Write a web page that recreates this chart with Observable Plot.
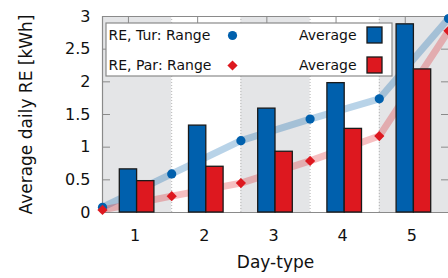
<!DOCTYPE html>
<html>
<head>
<meta charset="utf-8">
<script src="https://cdn.jsdelivr.net/npm/d3@7"></script>
<script src="https://cdn.jsdelivr.net/npm/@observablehq/plot@0.6"></script>
<style>
  html, body { margin: 0; padding: 0; background: #fff; }
  #chart svg { display: block; }
</style>
</head>
<body>
<div id="chart"></div>
<script>
// ---- data ----
const days = [1, 2, 3, 4, 5];
const turAvg = [0.66, 1.33, 1.59, 1.98, 2.88];
const parAvg = [0.48, 0.70, 0.93, 1.28, 2.19];
const rangeX = [0.5, 1.5, 2.5, 3.5, 4.5, 5.5];
const turRange = [0.08, 0.59, 1.10, 1.43, 1.74, 2.97];
const parRange = [0.04, 0.25, 0.45, 0.79, 1.17, 2.78];
const yTicks = [0, 0.5, 1, 1.5, 2, 2.5, 3];
const bandStarts = [0.5, 2.5, 4.5];
const bandEdges = [1.5, 2.5, 3.5, 4.5];
const legendTur = ["RE, Tur: Range", "Average"];
const legendPar = ["RE, Par: Range", "Average"];
const xLabel = "Day-type";
const yLabel = "Average daily RE [kWh]";

const BLUE = "#0060ad";
const RED = "#dd181f";
const AXIS = "#8a8a8a";
const BAR_W = 0.25;

const turBars = days.map((d, i) => ({day: d, v: turAvg[i]}));
const parBars = days.map((d, i) => ({day: d, v: parAvg[i]}));
const turPts = rangeX.map((x, i) => ({x, v: turRange[i]}));
const parPts = rangeX.map((x, i) => ({x, v: parRange[i]}));

// legend row builder (pixel offsets inside the frame)
function legendRow(labels, color, symbol, dy, swTop, swBottom) {
  return [
    Plot.text([labels[0]], {frameAnchor: "top-left", textAnchor: "start", lineAnchor: "middle", dx: 6, dy, text: d => d, fontSize: 14}),
    Plot.dot([0], {frameAnchor: "top-left", dx: 130, dy, r: 4.6, fill: color, symbol}),
    Plot.text([labels[1]], {frameAnchor: "top-left", textAnchor: "end", lineAnchor: "middle", dx: 254, dy, text: d => d, fontSize: 14}),
    Plot.rect([0], {fill: color, stroke: "#1a1a1a", strokeWidth: 1.3, insetLeft: 265, insetRight: 66, insetTop: swTop, insetBottom: swBottom})
  ];
}

const chart = Plot.plot({
  width: 448,
  height: 278,
  marginLeft: 102,
  marginRight: 0,
  marginTop: 16,
  marginBottom: 66,
  style: {fontFamily: "'DejaVu Sans', sans-serif", fontSize: "16px", color: "#111", background: "#fff"},
  x: {domain: [0.5, 5.5]},
  y: {domain: [0, 3]},
  marks: [
    // shaded bands
    Plot.rect(bandStarts, {x1: d => d, x2: d => d + 1, fill: "#e4e5e7"}),
    Plot.ruleX(bandEdges, {stroke: "#b5b5b5", strokeDasharray: "1,2", strokeWidth: 1}),
    // range lines
    Plot.line(turPts, {x: "x", y: "v", stroke: BLUE, strokeOpacity: 0.28, strokeWidth: 7}),
    Plot.line(parPts, {x: "x", y: "v", stroke: RED, strokeOpacity: 0.28, strokeWidth: 7}),
    // frame lines and inner ticks
    Plot.ruleY([0, 3], {stroke: AXIS, strokeWidth: 1.2}),
    Plot.ruleX([0.5], {stroke: AXIS, strokeWidth: 1.2}),
    Plot.ruleY(yTicks, {y: d => d, stroke: AXIS, insetRight: 338}),
    Plot.ruleY(yTicks, {y: d => d, stroke: AXIS, insetLeft: 339}),
    Plot.ruleX(days, {x: d => d - BAR_W / 2, stroke: AXIS, insetBottom: 189}),
    // bars
    Plot.rectY(turBars, {x1: d => d.day - BAR_W, x2: d => d.day, y1: 0, y2: "v", fill: BLUE, stroke: "#1a1a1a", strokeWidth: 1.3}),
    Plot.rectY(parBars, {x1: d => d.day, x2: d => d.day + BAR_W, y1: 0, y2: "v", fill: RED, stroke: "#1a1a1a", strokeWidth: 1.3}),
    // range points
    Plot.dot(turPts, {x: "x", y: "v", r: 4.6, fill: BLUE, symbol: "circle"}),
    Plot.dot(parPts, {x: "x", y: "v", r: 4.6, fill: RED, symbol: "diamond2"}),
    // axes
    Plot.axisY({ticks: yTicks, tickSize: 0, tickPadding: 12, tickFormat: d => String(d), label: null, fontSize: 16}),
    Plot.axisX({ticks: days, tickSize: 0, tickPadding: 17, dx: -2, tickFormat: d => String(d), label: null, fontSize: 16}),
    Plot.text([xLabel], {frameAnchor: "bottom", lineAnchor: "middle", dy: 50, text: d => d, fontSize: 17}),
    Plot.text([yLabel], {frameAnchor: "left", textAnchor: "middle", rotate: -90, dx: -76, text: d => d, fontSize: 17}),
    // legend
    Plot.rect([0], {fill: "white", stroke: AXIS, strokeWidth: 1.2, insetLeft: 4, insetTop: 7, insetRight: 56, insetBottom: 136}),
    ...legendRow(legendTur, BLUE, "circle", 19, 11, 169),
    ...legendRow(legendPar, RED, "diamond2", 49, 41, 139)
  ]
});

document.getElementById("chart").appendChild(chart);
</script>
</body>
</html>
